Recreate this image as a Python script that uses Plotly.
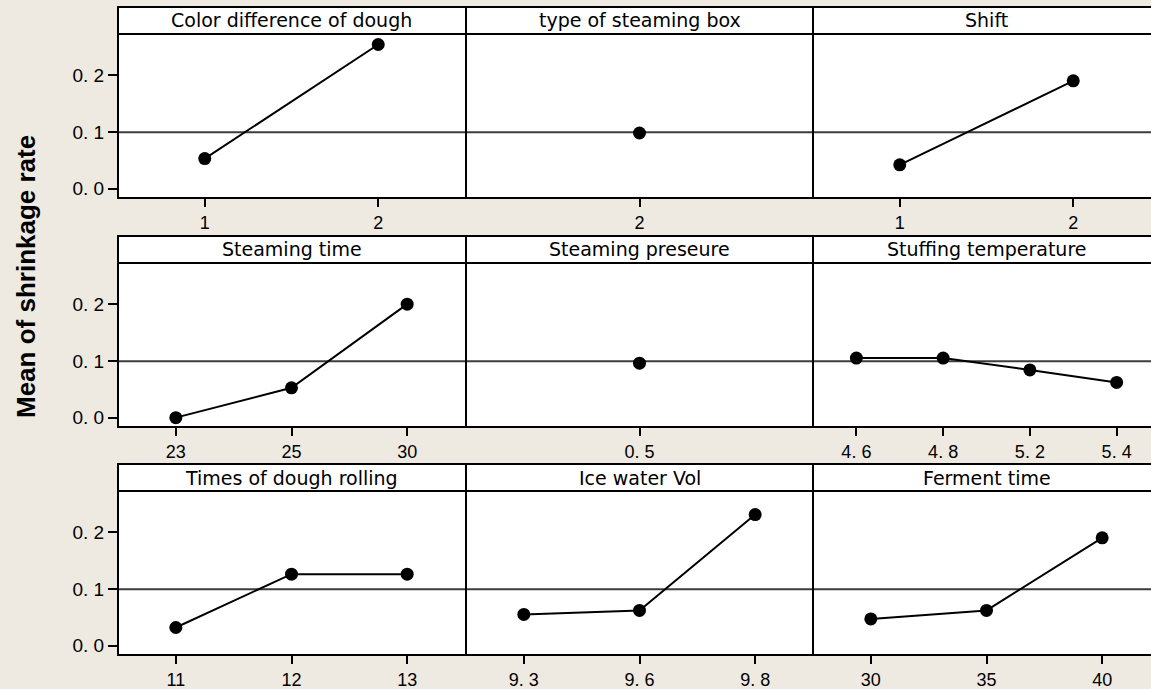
import plotly.graph_objects as go

# Main effects for shrinkage rate: one panel per factor (3 x 3 grid)
panel_titles = [
    "Color difference of dough", "type of steaming box", "Shift",
    "Steaming time", "Steaming preseure", "Stuffing temperature",
    "Times of dough rolling", "Ice water Vol", "Ferment time",
]
panel_levels = [
    ["1", "2"], ["2"], ["1", "2"],
    ["23", "25", "30"], ["0. 5"], ["4. 6", "4. 8", "5. 2", "5. 4"],
    ["11", "12", "13"], ["9. 3", "9. 6", "9. 8"], ["30", "35", "40"],
]
panel_means = [
    [0.053, 0.254], [0.098], [0.042, 0.190],
    [0.000, 0.0525, 0.200], [0.096], [0.105, 0.105, 0.084, 0.062],
    [0.032, 0.126, 0.126], [0.055, 0.062, 0.231], [0.047, 0.062, 0.190],
]
grand_mean = 0.0995
y_tick_vals = [0.0, 0.1, 0.2]
y_tick_text = ["0. 0", "0. 1", "0. 2"]
y_title = "Mean of shrinkage rate"

# ---- page geometry (pixels) ----
W, H = 1151, 689
col_left = [118, 466, 813]
col_w = 347
row_top = [7, 236, 464]
strip_h = 27
plot_h = 164
y_range = [-0.0165, 0.2725]

BG = "#EEEAE1"
TICK_FONT = dict(family="Arial, Liberation Sans, sans-serif", size=18, color="black")
TITLE_FONT = dict(family="Tahoma, DejaVu Sans, sans-serif", size=19, color="black")


def px(x):
    return x / W


def py(y):
    return 1 - y / H


fig = go.Figure()
layout = {}
shapes = []
annotations = []

for i, (title, levels, means) in enumerate(zip(panel_titles, panel_levels, panel_means)):
    r, c = divmod(i, 3)
    n = i + 1
    xa = "xaxis" if n == 1 else f"xaxis{n}"
    ya = "yaxis" if n == 1 else f"yaxis{n}"
    xr = "x" if n == 1 else f"x{n}"
    yr = "y" if n == 1 else f"y{n}"

    k = len(levels)
    pos = list(range(1, k + 1))
    x0 = col_left[c]
    x1 = x0 + col_w
    x1v = min(x1, W)
    x_lo, x_hi = 0.5, 0.5 + k * (x1v - x0) / col_w

    top = row_top[r] + strip_h
    bottom = top + plot_h

    layout[xa] = dict(
        domain=[px(x0), px(x1v)], range=[x_lo, x_hi], anchor=yr,
        tickmode="array", tickvals=pos, ticktext=levels,
        ticks="outside", ticklen=8, tickwidth=2, tickcolor="black",
        tickfont=TICK_FONT, showgrid=False, zeroline=False, showline=False,
        fixedrange=True,
    )
    ycfg = dict(
        domain=[py(bottom), py(top)], range=y_range, anchor=xr,
        showgrid=False, zeroline=False, showline=False, fixedrange=True,
    )
    if c == 0:
        ycfg.update(tickmode="array", tickvals=y_tick_vals, ticktext=y_tick_text,
                    ticks="outside", ticklen=9, tickwidth=2, tickcolor="black",
                    tickfont=dict(TICK_FONT, size=19))
    else:
        ycfg.update(showticklabels=False, ticks="")
    layout[ya] = ycfg

    # overall mean reference line across the panel
    fig.add_trace(go.Scatter(
        x=[x_lo, x_hi], y=[grand_mean, grand_mean], mode="lines",
        xaxis=xr, yaxis=yr, line=dict(color="#3C3C3C", width=2),
        showlegend=False, hoverinfo="skip",
    ))

    fig.add_trace(go.Scatter(
        x=pos, y=means, mode="lines+markers", xaxis=xr, yaxis=yr,
        line=dict(color="black", width=2),
        marker=dict(size=13, color="black"),
        showlegend=False, hoverinfo="skip",
    ))

    annotations.append(dict(
        x=px((x0 + x1) / 2), y=py(row_top[r] + strip_h / 2), xref="paper", yref="paper",
        text=title, showarrow=False, font=TITLE_FONT, xanchor="center", yanchor="middle",
    ))

# strips and frames for each row
frame_right = col_left[0] + 3 * col_w
for r in range(3):
    t = row_top[r]
    sb = t + strip_h
    b = sb + plot_h
    shapes.append(dict(type="rect", xref="paper", yref="paper",
                       x0=px(col_left[0]), x1=px(frame_right), y0=py(sb), y1=py(t),
                       fillcolor="white", line=dict(width=0), layer="below"))
    shapes.append(dict(type="rect", xref="paper", yref="paper",
                       x0=px(col_left[0]), x1=px(frame_right), y0=py(b), y1=py(t),
                       fillcolor="rgba(0,0,0,0)", line=dict(color="black", width=2), layer="above"))
    shapes.append(dict(type="line", xref="paper", yref="paper",
                       x0=px(col_left[0]), x1=px(frame_right), y0=py(sb), y1=py(sb),
                       line=dict(color="black", width=2), layer="above"))
    for c in (1, 2):
        shapes.append(dict(type="line", xref="paper", yref="paper",
                           x0=px(col_left[c]), x1=px(col_left[c]), y0=py(b), y1=py(t),
                           line=dict(color="black", width=2), layer="above"))

annotations.append(dict(
    x=px(26), y=py(277), xref="paper", yref="paper", text=f"<b>{y_title}</b>",
    textangle=-90, showarrow=False, xanchor="center", yanchor="middle",
    font=dict(family="Arial, Liberation Sans, sans-serif", size=26, color="black"),
))

fig.update_layout(
    width=W, height=H, margin=dict(l=0, r=0, t=0, b=0),
    paper_bgcolor=BG, plot_bgcolor="white",
    shapes=shapes, annotations=annotations, showlegend=False,
    **layout,
)

fig.write_html("out.html")
